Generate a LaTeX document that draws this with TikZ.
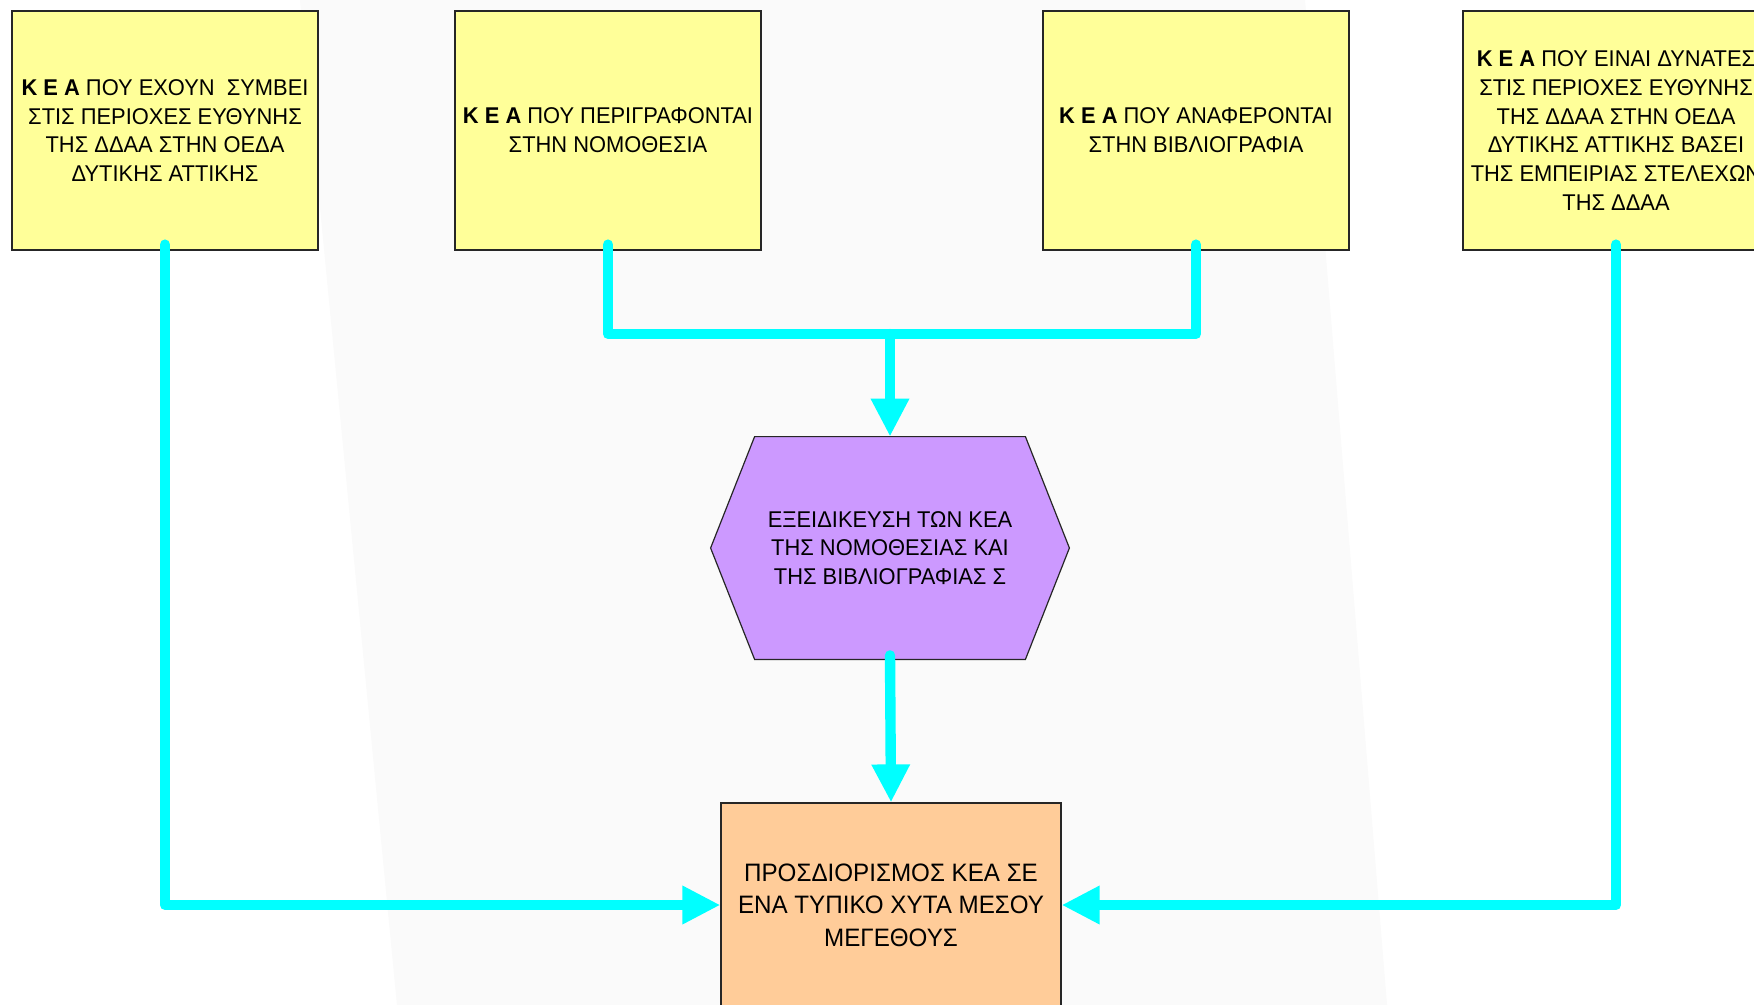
\documentclass[tikz,border=0pt]{standalone}
\usepackage{fontspec}
\setmainfont{Liberation Sans}[FakeStretch=0.96]
\usetikzlibrary{arrows.meta,calc}

\definecolor{boxyellow}{HTML}{FFFF99}
\definecolor{hexviolet}{HTML}{CC99FF}
\definecolor{resorange}{HTML}{FFCC99}
\definecolor{flowcyan}{HTML}{00FFFF}
\definecolor{bandgrey}{HTML}{FAFAFA}

\tikzset{
  srcbox/.style={draw=black!85, line width=0.6pt, fill=boxyellow,
    minimum width=153pt, minimum height=119.5pt, inner sep=0pt,
    align=center, font=\fontsize{11.4}{14.35}\selectfont},
  hexlabel/.style={minimum width=179pt, minimum height=111pt, inner sep=0pt,
    align=center, font=\fontsize{11.4}{14.3}\selectfont},
  hexshape/.style={draw=black!85, line width=0.6pt, fill=hexviolet},
  resbox/.style={draw=black!85, line width=0.6pt, fill=resorange,
    minimum width=170pt, minimum height=102pt, inner sep=0pt,
    align=center, font=\fontsize{12.6}{16.2}\selectfont},
  flow/.style={draw=flowcyan, line width=5.2pt, line cap=round, line join=round},
  flowtip/.style={flow, -{Triangle[length=19pt,width=18pt]}},
}

\begin{document}
\begin{tikzpicture}[x=0.5pt, y=-0.5pt]
  \useasboundingbox (0,0) rectangle (1754,1005);
  \fill[white] (0,0) rectangle (1754,1005);
  % faint diagonal band behind the chart
  \fill[bandgrey] (300,0) -- (1305,0) -- (1387,1005) -- (397,1005) -- cycle;

  % source boxes
  \node[srcbox] (b1) at (165,130.5) {\textbf{Κ Ε Α} ΠΟΥ ΕΧΟΥΝ~ ΣΥΜΒΕΙ\\ΣΤΙΣ ΠΕΡΙΟΧΕΣ ΕΥΘΥΝΗΣ\\ΤΗΣ ΔΔΑΑ ΣΤΗΝ ΟΕΔΑ\\ΔΥΤΙΚΗΣ ΑΤΤΙΚΗΣ};
  \node[srcbox] (b2) at (608,130.5) {\textbf{Κ Ε Α} ΠΟΥ ΠΕΡΙΓΡΑΦΟΝΤΑΙ\\ΣΤΗΝ ΝΟΜΟΘΕΣΙΑ};
  \node[srcbox] (b3) at (1196,130.5) {\textbf{Κ Ε Α} ΠΟΥ ΑΝΑΦΕΡΟΝΤΑΙ\\ΣΤΗΝ ΒΙΒΛΙΟΓΡΑΦΙΑ};
  \node[srcbox] (b4) at (1616,130.5) {\textbf{Κ Ε Α} ΠΟΥ ΕΙΝΑΙ ΔΥΝΑΤΕΣ\\ΣΤΙΣ ΠΕΡΙΟΧΕΣ ΕΥΘΥΝΗΣ\\ΤΗΣ ΔΔΑΑ ΣΤΗΝ ΟΕΔΑ\\ΔΥΤΙΚΗΣ ΑΤΤΙΚΗΣ ΒΑΣΕΙ\\ΤΗΣ ΕΜΠΕΙΡΙΑΣ ΣΤΕΛΕΧΩΝ\\ΤΗΣ ΔΔΑΑ};

  % hexagonal specialisation step
  \node[hexlabel] (hex) at (890,548) {};
  \draw[hexshape] (hex.west) -- ($(hex.north west)+(44,0)$) -- ($(hex.north east)+(-44,0)$)
    -- (hex.east) -- ($(hex.south east)+(-44,0)$) -- ($(hex.south west)+(44,0)$) -- cycle;
  \node[hexlabel] at (hex.center) {ΕΞΕΙΔΙΚΕΥΣΗ ΤΩΝ ΚΕΑ\\ΤΗΣ ΝΟΜΟΘΕΣΙΑΣ ΚΑΙ\\ΤΗΣ ΒΙΒΛΙΟΓΡΑΦΙΑΣ Σ};

  % result box
  \node[resbox] (res) at (891,905) {ΠΡΟΣΔΙΟΡΙΣΜΟΣ ΚΕΑ ΣΕ\\ΕΝΑ ΤΥΠΙΚΟ ΧΥΤΑ ΜΕΣΟΥ\\ΜΕΓΕΘΟΥΣ};

  % connectors
  \coordinate (join) at (890,334);
  \draw[flow] ([yshift=3pt]b2.south) |- (join) -| ([yshift=3pt]b3.south);
  \draw[flowtip] (join) -- (hex.north);
  \draw[flowtip] ([yshift=2pt]hex.south) -- (res.north);
  \draw[flowtip] ([yshift=3pt]b1.south) |- (res.west);
  \draw[flowtip] ([yshift=3pt]b4.south) |- (res.east);
\end{tikzpicture}
\end{document}
